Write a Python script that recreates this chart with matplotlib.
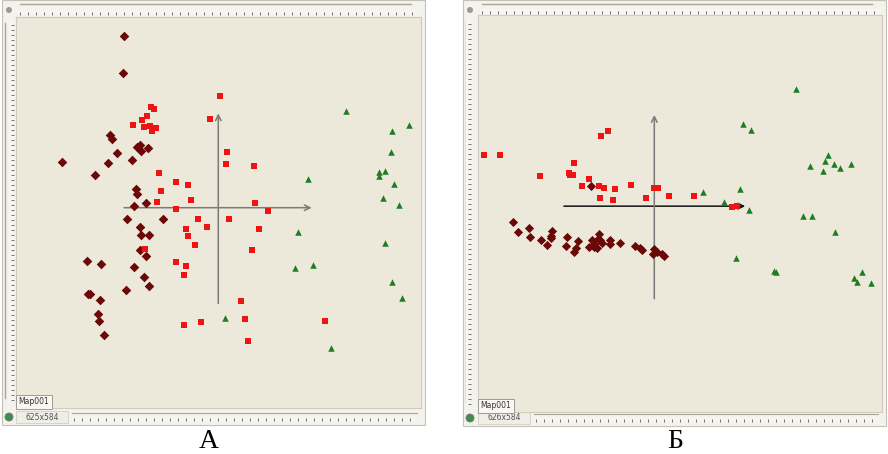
import matplotlib
matplotlib.use("Agg")
import matplotlib.pyplot as plt
from matplotlib.patches import Rectangle, Circle

plt.rcParams["font.family"] = ["DejaVu Sans"]

# ---- panel А : canonical scores, three groups ----
a_diamond_x = [-9.43, -9.57, -10.83, -10.63, -15.67, -12.30, -11.07, -10.13, -8.60, -8.10,
               -7.83, -7.77, -7.00, -8.27, -8.13, -8.47, -7.27, -9.17, -5.50, -7.80,
               -7.70, -6.97, -7.87, -7.27, -8.43, -7.40, -6.97, -9.23, -13.10, -11.73,
               -13.07, -12.83, -11.87, -12.07, -11.93, -11.43]
a_diamond_y = [17.17, 13.43, 7.30, 6.90, 4.53, 3.30, 4.47, 5.43, 4.73, 6.10,
               6.23, 5.70, 6.00, 1.90, 1.33, 0.17, 0.43, -1.13, -1.10, -1.97,
               -2.70, -2.70, -4.23, -4.83, -5.97, -6.90, -7.80, -8.20, -5.33, -5.67,
               -8.60, -8.67, -9.20, -10.63, -11.37, -12.73]
a_square_x = [0.13, -0.83, -6.77, -6.43, -7.13, -7.63, -8.53, -7.47, -6.83, -6.20,
              -6.63, 0.87, 0.80, 3.60, -5.93, -4.20, -3.07, -5.77, -2.70, -6.13,
              3.70, -4.27, 4.97, -2.00, 1.07, -3.27, -1.10, 4.10, -3.03, -2.33,
              -7.30, 3.40, -4.23, -3.20, -3.43, 2.23, 2.63, -1.73, -3.47, 2.93, 10.63]
a_square_y = [11.20, 8.83, 10.03, 9.90, 9.20, 8.73, 8.30, 8.07, 8.17, 7.93,
              7.63, 5.53, 4.37, 4.13, 3.47, 2.53, 2.23, 1.63, 0.77, 0.57,
              0.47, -0.13, -0.33, -1.17, -1.13, -2.10, -1.97, -2.13, -2.80, -3.73,
              -4.17, -4.20, -5.47, -5.87, -6.70, -9.30, -11.17, -11.43, -11.73, -13.30, -11.37]
a_triangle_x = [12.77, 19.10, 17.40, 17.30, 16.67, 16.07, 16.07, 17.60, 8.97, 16.43,
                18.10, 7.97, 16.63, 7.63, 9.50, 17.37, 18.33, 0.63, 11.30]
a_triangle_y = [9.63, 8.27, 7.70, 5.57, 3.70, 3.57, 3.17, 2.37, 2.83, 0.93,
                0.30, -2.40, -3.57, -6.00, -5.73, -7.43, -9.03, -11.00, -14.00]

# ---- panel Б ----
b_diamond_x = [-6.30, -14.13, -13.60, -12.47, -12.43, -11.27, -10.73, -10.33, -10.17, -10.30,
               -8.67, -8.83, -7.57, -8.00, -7.83, -6.53, -6.23, -6.00, -5.73, -5.50,
               -5.40, -5.20, -4.43, -4.40, -3.40, -1.93, -1.43, -1.23, -0.10, 0.00,
               0.27, 0.73, 1.00, -6.00, -5.60]
b_diamond_y = [1.97, -1.63, -2.63, -2.20, -3.13, -3.43, -3.87, -2.97, -2.50, -3.17,
               -3.07, -3.97, -3.53, -4.60, -4.20, -4.07, -3.43, -3.77, -4.20, -2.83,
               -3.43, -3.70, -3.80, -3.43, -3.73, -4.03, -4.20, -4.43, -4.77, -4.30,
               -4.60, -4.77, -4.97, -4.10, -3.27]
b_square_x = [-17.03, -15.43, -11.37, -5.37, -4.63, -8.03, -8.53, -8.40, -8.13, -6.50,
              -7.23, -5.50, -5.07, -3.97, -2.33, -0.07, 0.40, -5.40, -4.17, -0.80,
              1.43, 3.93, 7.80, 8.30]
b_square_y = [5.13, 5.13, 3.00, 7.00, 7.57, 4.30, 3.27, 3.07, 3.07, 2.67,
              2.03, 2.00, 1.80, 1.73, 2.13, 1.83, 1.83, 0.80, 0.57, 0.83,
              1.03, 0.97, -0.07, -0.03]
b_triangle_x = [14.17, 8.83, 9.63, 17.30, 17.07, 15.53, 17.97, 16.80, 18.53, 19.67,
                4.90, 8.60, 7.00, 9.47, 14.83, 15.77, 18.07, 8.20, 11.90, 12.10,
                20.77, 19.93, 20.27, 21.63]
b_triangle_y = [11.77, 8.23, 7.60, 5.10, 4.47, 4.00, 4.20, 3.50, 3.77, 4.20,
                1.40, 1.67, 0.40, -0.43, -0.97, -0.97, -2.57, -5.20, -6.53, -6.63,
                -6.63, -7.23, -7.63, -7.73]

W, H = 888, 454
fig = plt.figure(figsize=(W / 100, H / 100), dpi=100)
fig.patch.set_facecolor("white")


def px_axes(x0, y0, x1, y1):
    return fig.add_axes([x0 / W, 1 - y1 / H, (x1 - x0) / W, (y1 - y0) / H])


bg = px_axes(0, 0, W, H)
bg.set_xlim(0, W)
bg.set_ylim(H, 0)
bg.axis("off")


def ruler(x0, y0, x1, y1, vertical=False):
    r = px_axes(x0, y0, x1, y1)
    r.set_facecolor("#f6f5f0")
    for s in r.spines.values():
        s.set_visible(False)
    n = (y1 - y0) if vertical else (x1 - x0)
    if vertical:
        r.set_ylim(0, n)
        r.set_xticks([])
        r.set_yticks(range(2, int(n), 5))
        r.yaxis.tick_right()
        r.tick_params(axis="y", direction="in", length=2.5, width=0.7,
                      color="#6f6f6f", labelright=False)
    else:
        r.set_xlim(0, n)
        r.set_yticks([])
        r.set_xticks(range(2, int(n), 8))
        r.tick_params(axis="x", direction="in", length=2.5, width=0.7,
                      color="#6f6f6f", labelbottom=False)
    return r


def window(box, plot, top_y, left_x, size_text):
    x0, y0, x1, y1 = box
    px0, py0, px1, py1 = plot
    bg.add_patch(Rectangle((x0, y0), x1 - x0, y1 - y0, fc="#f3f2ec", ec="#c4c1b6", lw=0.8))
    bg.plot([px0 + 4, px1 - 10], [y0 + 4, y0 + 4], color="#a9a699", lw=1.0)
    bg.plot([x0 + 3, x0 + 3], [py0 + 6, py1 - 10], color="#a9a699", lw=1.0)
    bg.add_patch(Circle((x0 + 7, y0 + 10), 3, fc="#9c9a90", ec="none"))
    ruler(px0 + 2, top_y, px1 - 2, top_y + 5)
    ruler(left_x, py0 + 4, left_x + 5, py1 - 6, vertical=True)
    # status bar
    bg.add_patch(Circle((x0 + 7, y1 - 8), 4, fc="#3d8f4a", ec="#777777", lw=0.6))
    bg.add_patch(Rectangle((px0, y1 - 14), 52, 12, fc="#efeee6", ec="#d2cfc4", lw=0.6))
    bg.text(px0 + 26, y1 - 8, size_text, fontsize=5.5, color="#555555",
            ha="center", va="center")
    bg.plot([px0 + 56, px1 - 4], [y1 - 12, y1 - 12], color="#a9a699", lw=0.8)
    ruler(px0 + 56, y1 - 9, px1 - 4, y1 - 4)


def panel(plot, lims, arrows, hcolor, series):
    px0, py0, px1, py1 = plot
    ax = px_axes(px0, py0, px1, py1)
    ax.set_facecolor("#ece9db")
    ax.set_xlim(lims[0], lims[1])
    ax.set_ylim(lims[2], lims[3])
    ax.set_xticks([])
    ax.set_yticks([])
    for s in ax.spines.values():
        s.set_color("#cfccbf")
        s.set_linewidth(0.8)
    hx0, hx1, vy0, vy1 = arrows
    ax.annotate("", xy=(hx1, 0), xytext=(hx0, 0), zorder=2,
                arrowprops=dict(arrowstyle="->", color=hcolor, lw=1.1,
                                mutation_scale=10, shrinkA=0, shrinkB=0))
    ax.annotate("", xy=(0, vy1), xytext=(0, vy0), zorder=2,
                arrowprops=dict(arrowstyle="->", color="#7a7a7a", lw=1.1,
                                mutation_scale=10, shrinkA=0, shrinkB=0))
    for xs, ys, m, c, s in series:
        ax.scatter(xs, ys, marker=m, color=c, s=s, linewidths=0, zorder=3)
    # Map001 tab
    ax.text(0.006, 0.004, "Map001", transform=ax.transAxes, fontsize=5.5,
            color="#333333", ha="left", va="bottom", zorder=6,
            bbox=dict(boxstyle="square,pad=0.35", fc="#f8f7f3", ec="#9d9b92", lw=0.7))
    return ax


dark = "#6a0808"
red = "#ee1414"
green = "#1e7d22"

# panel А
window((2, 0, 425, 425), (16, 17, 421, 408), 10, 9, "625x584")
panel((16, 17, 421, 408), (-20.23, 20.27, -20.03, 19.07), (-9.43, 9.33, -9.57, 9.43),
      "#7a7a7a",
      [(a_diamond_x, a_diamond_y, "D", dark, 24),
       (a_square_x, a_square_y, "s", red, 22),
       (a_triangle_x, a_triangle_y, "^", green, 22)])

# panel Б
window((463, 0, 886, 426), (478, 15, 882, 412), 9, 466, "626x584")
panel((478, 15, 882, 412), (-17.6, 22.73, -20.6, 19.13), (-9.03, 9.07, -9.27, 9.13),
      "#111111",
      [(b_diamond_x, b_diamond_y, "D", dark, 22),
       (b_square_x, b_square_y, "s", red, 22),
       (b_triangle_x, b_triangle_y, "^", green, 22)])

bg.text(209, 441, "А", fontsize=20, family=["Liberation Serif"], ha="center", va="center")
bg.text(675, 441, "Б", fontsize=20, family=["Liberation Serif"], ha="center", va="center")

fig.savefig("out.png", dpi=100)
